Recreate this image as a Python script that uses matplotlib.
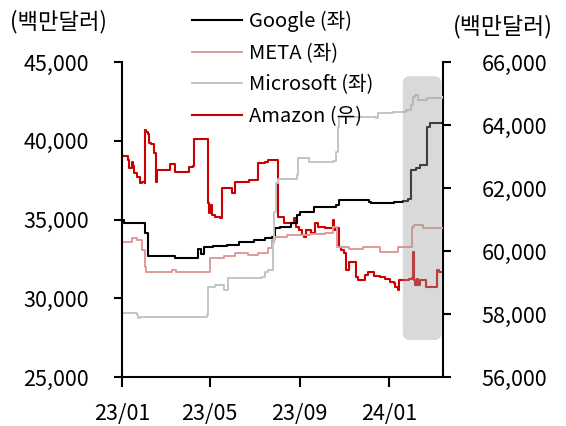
import pandas as pd
import matplotlib
matplotlib.use('Agg')
import matplotlib.pyplot as plt
import matplotlib.dates as mdates
from matplotlib.patches import FancyBboxPatch

plt.rcParams['font.family'] = ['Noto Sans CJK KR', 'DejaVu Sans']
plt.rcParams['font.size'] = 15.5

# Google (left axis, 백만달러)
google_dates = ['2023-01-01', '2023-01-04', '2023-02-02', '2023-02-05', '2023-03-15', '2023-04-15',
                '2023-04-19', '2023-04-23', '2023-05-05', '2023-05-25', '2023-06-10', '2023-06-30',
                '2023-07-15', '2023-07-25', '2023-07-29', '2023-08-05', '2023-08-20', '2023-08-29',
                '2023-09-02', '2023-09-20', '2023-10-20', '2023-10-25', '2023-12-05', '2023-12-08',
                '2024-01-08', '2024-01-20', '2024-01-27', '2024-01-31', '2024-02-07', '2024-02-12',
                '2024-02-22', '2024-02-26', '2024-03-15']
google_vals = [35000, 34800, 34150, 32700, 32550, 33100,
               32800, 33250, 33300, 33400, 33550, 33700,
               33800, 33900, 34450, 34550, 34780, 35300,
               35480, 35800, 35920, 36240, 36110, 36050,
               36100, 36200, 36300, 38150, 38270, 38460,
               40870, 41130, 41130]

# META (left axis)
meta_dates = ['2023-01-01', '2023-01-14', '2023-01-22', '2023-01-29', '2023-02-01', '2023-02-03',
              '2023-03-10', '2023-03-16', '2023-05-01', '2023-05-20', '2023-06-05', '2023-06-22',
              '2023-07-06', '2023-07-19', '2023-07-25', '2023-07-29', '2023-08-15', '2023-09-15',
              '2023-10-05', '2023-10-16', '2023-10-22', '2023-11-08', '2023-11-26', '2023-12-20',
              '2024-01-14', '2024-02-01', '2024-02-05', '2024-02-17', '2024-03-15']
meta_vals = [33570, 33830, 33700, 33060, 31980, 31670,
             31800, 31670, 32560, 32700, 32870, 32750,
             32870, 33190, 33700, 33890, 34020, 34050,
             34150, 34520, 33250, 33100, 33250, 32940,
             33250, 34500, 34650, 34460, 34460]

# Microsoft (left axis)
msft_dates = ['2023-01-01', '2023-01-21', '2023-01-23', '2023-01-25', '2023-04-27', '2023-04-29',
              '2023-05-08', '2023-05-21', '2023-05-26', '2023-07-12', '2023-07-15', '2023-07-20',
              '2023-07-26', '2023-07-28', '2023-07-31', '2023-08-03', '2023-08-28', '2023-08-30',
              '2023-09-14', '2023-10-17', '2023-10-20', '2023-10-23', '2023-10-25', '2023-12-14',
              '2023-12-17', '2024-01-06', '2024-01-24', '2024-01-31', '2024-02-03', '2024-02-06',
              '2024-02-10', '2024-02-22', '2024-03-15']
msft_vals = [29060, 28940, 28750, 28810, 28940, 30710,
             30840, 30520, 31290, 31350, 31670, 31790,
             33500, 35500, 37300, 37600, 37830, 38900,
             38650, 38700, 39290, 40870, 41500, 41440,
             41760, 41820, 41950, 42270, 42780, 42900,
             42590, 42720, 42780]

# Amazon (right axis)
amzn_dates = ['2023-01-01', '2023-01-09', '2023-01-10', '2023-01-14', '2023-01-16', '2023-01-18',
              '2023-01-22', '2023-01-25', '2023-01-29', '2023-02-01', '2023-02-02', '2023-02-03',
              '2023-02-05', '2023-02-07', '2023-02-09', '2023-02-14', '2023-02-16', '2023-02-18',
              '2023-03-07', '2023-03-15', '2023-04-03', '2023-04-08', '2023-04-10', '2023-04-28',
              '2023-04-30', '2023-05-02', '2023-05-04', '2023-05-08', '2023-05-15', '2023-05-18',
              '2023-05-31', '2023-06-05', '2023-06-24', '2023-07-06', '2023-07-15', '2023-07-20',
              '2023-08-03', '2023-08-10', '2023-08-24', '2023-08-27', '2023-08-31', '2023-09-04',
              '2023-09-07', '2023-09-10', '2023-09-16', '2023-09-22', '2023-09-26', '2023-10-06',
              '2023-10-17', '2023-10-18', '2023-10-20', '2023-10-25', '2023-10-28', '2023-11-01',
              '2023-11-03', '2023-11-08', '2023-11-17', '2023-11-20', '2023-11-30', '2023-12-03',
              '2023-12-11', '2023-12-20', '2023-12-26', '2024-01-02', '2024-01-08', '2024-01-10',
              '2024-01-13', '2024-01-15', '2024-01-28', '2024-02-01', '2024-02-03', '2024-02-04',
              '2024-02-06', '2024-02-08', '2024-02-10', '2024-02-12', '2024-02-21', '2024-03-07',
              '2024-03-10', '2024-03-15']
amzn_vals = [63020, 62890, 62635, 62825, 62700, 62476,
             62350, 62160, 62190, 62160, 63840, 63780,
             63700, 63430, 63400, 63110, 62190, 62570,
             62760, 62510, 62670, 62700, 63560, 61520,
             61210, 61460, 61150, 61080, 61050, 62000,
             61840, 62190, 62250, 62800, 62830, 62890,
             61080, 60890, 61050, 60760, 60670, 60510,
             60440, 60670, 60570, 60890, 60760, 60730,
             60980, 60670, 60730, 60130, 60030, 59940,
             59400, 59650, 59180, 59080, 59240, 59330,
             59210, 59180, 59110, 59020, 58980, 58860,
             58760, 59080, 59110, 59140, 59970, 59080,
             58920, 59110, 58920, 59080, 58860, 59400,
             59330, 59330]

# highlighted period
box_start, box_end = '2024-01-20', '2024-03-13'
box_lo, box_hi = 27350, 44100

x_ticks = ['2023-01-01', '2023-05-01', '2023-09-01', '2024-01-01']
x_labels = ['23/01', '23/05', '23/09', '24/01']

fig = plt.figure(figsize=(5.66, 4.26), dpi=100)
ax = fig.add_axes([122 / 566, 1 - 377 / 426, 321 / 566, 315 / 426])
ax2 = ax.twinx()

l1, = ax.plot(pd.to_datetime(google_dates), google_vals, drawstyle='steps-post',
              color='black', lw=1.5, label='Google (좌)')
l2, = ax.plot(pd.to_datetime(meta_dates), meta_vals, drawstyle='steps-post',
              color='#e09a9a', lw=1.4, label='META (좌)')
l3, = ax.plot(pd.to_datetime(msft_dates), msft_vals, drawstyle='steps-post',
              color='#c4c4c4', lw=1.4, label='Microsoft (좌)')
l4, = ax2.plot(pd.to_datetime(amzn_dates), amzn_vals, drawstyle='steps-post',
               color='#cc0000', lw=1.5, label='Amazon (우)')

ax.set_ylim(25000, 45000)
ax.set_yticks(range(25000, 45001, 5000))
ax.yaxis.set_major_formatter(plt.FuncFormatter(lambda v, p: f'{int(v):,}'))
ax2.set_ylim(56000, 66000)
ax2.set_yticks(range(56000, 66001, 2000))
ax2.yaxis.set_major_formatter(plt.FuncFormatter(lambda v, p: f'{int(v):,}'))

ax.set_xlim(pd.Timestamp('2023-01-01'), pd.Timestamp('2024-03-15'))
ax.set_xticks(pd.to_datetime(x_ticks))
ax.set_xticklabels(x_labels)

# shaded box drawn on top with transparency
x0 = mdates.date2num(pd.Timestamp(box_start))
x1 = mdates.date2num(pd.Timestamp(box_end))
box = FancyBboxPatch((x0, box_lo), x1 - x0, box_hi - box_lo,
                     boxstyle='round,pad=0,rounding_size=10', mutation_aspect=48,
                     facecolor='#a0a0a0', edgecolor='none', alpha=0.4, zorder=5)
ax.add_patch(box)
ax.set_zorder(ax2.get_zorder() + 1)
ax.patch.set_visible(False)

for a in (ax, ax2):
    a.spines['top'].set_visible(False)
    for s in a.spines.values():
        s.set_linewidth(1.5)
ax.spines['right'].set_visible(False)
ax2.spines['left'].set_visible(False)
ax2.spines['bottom'].set_visible(False)

ax.tick_params(axis='y', direction='out', length=6, width=1.5, pad=18)
ax.tick_params(axis='x', direction='out', length=7, width=1.5, pad=12)
ax2.tick_params(axis='y', direction='out', length=6, width=1.5, pad=22)

fig.text(10 / 566, 1 - 22 / 426, '(백만달러)', ha='left', va='center', fontsize=16)
fig.text(453 / 566, 1 - 27 / 426, '(백만달러)', ha='left', va='center', fontsize=16.5)

fig.legend(handles=[l1, l2, l3, l4], loc='upper left', bbox_to_anchor=(192 / 566, 1 - 11 / 426),
           frameon=False, borderpad=0, borderaxespad=0, handlelength=2.5,
           handletextpad=0.35, labelspacing=0.52, fontsize=14.5)

fig.savefig('out.png', dpi=100)
